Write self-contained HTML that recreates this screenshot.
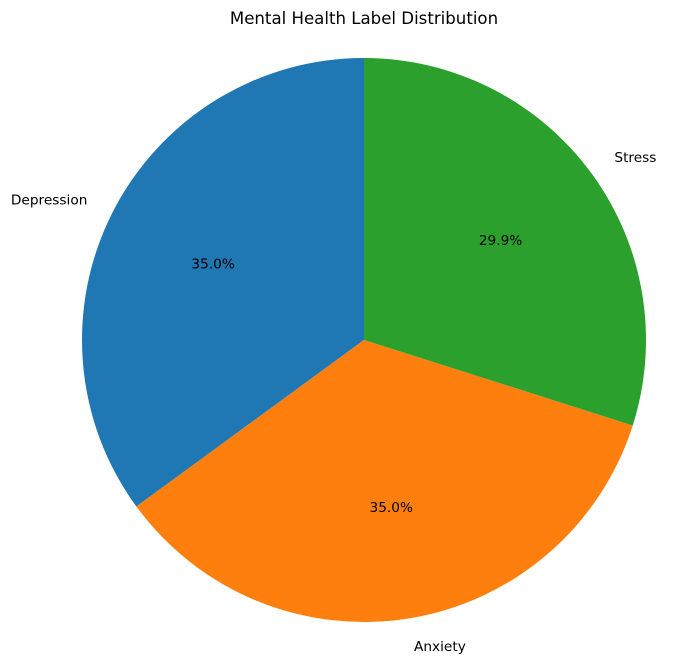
<!DOCTYPE html>
<html><head><meta charset="utf-8"><style>
body{margin:0;background:#fff}
svg text{font-family:"DejaVu Sans","Liberation Sans",sans-serif}
</style></head><body>
<svg id="chart" width="683" height="663" xmlns="http://www.w3.org/2000/svg">
<rect width="683" height="663" fill="#fff"/>
<text x="364" y="24" text-anchor="middle" font-size="16.6">Mental Health Label Distribution</text>
<g id="slices"></g>
</svg>
<script>
const categories = ["Depression", "Anxiety", "Stress"];
const values = [35.05, 35.05, 29.9];
const pctLabels = ["35.0%", "35.0%", "29.9%"];
const colors = ["#1f77b4", "#ff7f0e", "#2ca02c"];
const cx = 364, cy = 340, r = 282;
const g = document.getElementById('slices');
const ns = "http://www.w3.org/2000/svg";
const total = values.reduce((a,b)=>a+b,0);
function pt(a, rr){ const t=a*Math.PI/180; return [cx+rr*Math.cos(t), cy-rr*Math.sin(t)]; }
let start = 90;
values.forEach((v,i)=>{
  const sweep = v/total*360, end = start+sweep;
  const [x1,y1]=pt(start,r),[x2,y2]=pt(end,r);
  const p=document.createElementNS(ns,'path');
  p.setAttribute('d',`M${cx},${cy} L${x1},${y1} A${r},${r} 0 ${sweep>180?1:0} 0 ${x2},${y2} Z`);
  p.setAttribute('fill',colors[i]);
  
  
  g.appendChild(p);
  const mid=(start+end)/2;
  const [lx,ly]=pt(mid,r*1.1);
  const t=document.createElementNS(ns,'text');
  t.setAttribute('x',lx);t.setAttribute('y',ly+5);t.setAttribute('font-size','13.7');
  t.setAttribute('text-anchor',lx<cx?'end':'start');
  t.textContent=categories[i];
  
  
  g.appendChild(t);
  const [px,py]=pt(mid,r*0.6);
  const q=document.createElementNS(ns,'text');
  q.setAttribute('x',px);q.setAttribute('y',py+5);q.setAttribute('font-size','13.7');
  q.setAttribute('text-anchor','middle');
  q.textContent=pctLabels[i];
  
  
  g.appendChild(q);
  start=end;
});
</script>
</body></html>
